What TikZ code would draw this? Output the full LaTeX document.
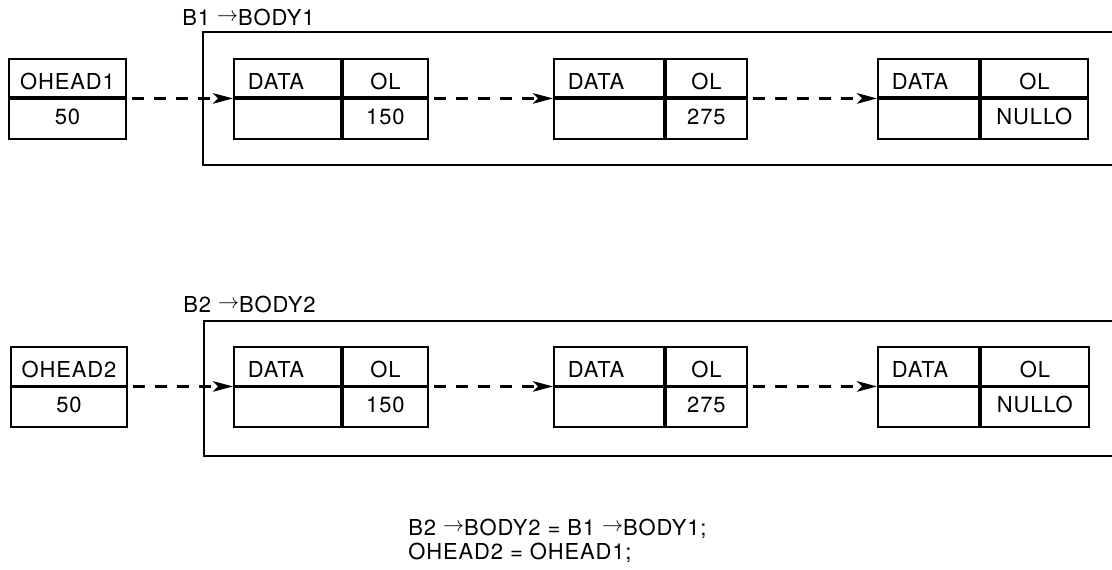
\documentclass[tikz,border=0pt]{standalone}
\usepackage{fontspec}
\setmainfont{TeX Gyre Heros}[LetterSpace=4]
\usepackage{tikz}
\usetikzlibrary{arrows.meta,positioning}
\newcommand{\boxfont}{\fontsize{12.5}{14}\selectfont}
\newcommand{\ptr}{\raisebox{0.3ex}{$\rightarrow$}}

\begin{document}
\begin{tikzpicture}[x=0.02cm, y=-0.02cm,
    cell/.style={draw, line width=1.1pt, inner sep=0pt, anchor=north west, font=\boxfont},
    topcell/.style={cell, minimum height=0.77cm, text height=0.44cm, text depth=0pt},
    botcell/.style={cell, minimum height=0.79cm, text height=0.2cm, text depth=0pt},
    datacell/.style={topcell, align=left, inner xsep=0.28cm, text width=#1},
    link/.style={line width=1.6pt, dash pattern=on 6.8pt off 5.8pt, shorten <=0.1cm,
        -{Stealth[length=4mm, width=2.1mm, inset=1mm]}},
    frame/.style={line width=1.1pt},
    tag/.style={anchor=base west, inner sep=0pt, font=\boxfont}]
    \useasboundingbox (0,0) rectangle (1112,569);

    % First list: B1 -> BODY1
    \node[tag] (lb1) at (182,25) {B1 \ptr BODY1};
    \draw[frame] (1112,32) -| (203,165) -- (1112,165);

    \node[topcell, minimum width=2.34cm] (oh1) at (8,58) {OHEAD1};
    \node[botcell, minimum width=2.34cm] (oh1v) at (oh1.south west) {50};

    \node[datacell=1.58cm] (d1) at (233,58) {DATA};
    \node[topcell, minimum width=1.7cm] (p1) at (d1.north east) {OL};
    \node[botcell, minimum width=2.14cm] (d1v) at (d1.south west) {};
    \node[botcell, minimum width=1.7cm] (p1v) at (p1.south west) {150};

    \node[datacell=1.64cm] (d2) at (553,58) {DATA};
    \node[topcell, minimum width=1.62cm] (p2) at (d2.north east) {OL};
    \node[botcell, minimum width=2.2cm] (d2v) at (d2.south west) {};
    \node[botcell, minimum width=1.62cm] (p2v) at (p2.south west) {275};

    \node[datacell=1.46cm] (d3) at (877,58) {DATA};
    \node[topcell, minimum width=2.14cm] (p3) at (d3.north east) {OL};
    \node[botcell, minimum width=2.02cm] (d3v) at (d3.south west) {};
    \node[botcell, minimum width=2.14cm] (p3v) at (p3.south west) {NULLO};

    \draw[link] (oh1.south east) -- (d1.south west);
    \draw[link] (p1.south east) -- (d2.south west);
    \draw[link] (p2.south east) -- (d3.south west);

    % Second list: B2 -> BODY2
    \node[tag] (lb2) at (183,312) {B2 \ptr BODY2};
    \draw[frame] (1112,321) -| (204,456) -- (1112,456);

    \node[topcell, minimum width=2.32cm] (oh2) at (10,346) {OHEAD2};
    \node[botcell, minimum width=2.32cm] (oh2v) at (oh2.south west) {50};

    \node[datacell=1.58cm] (e1) at (233,346) {DATA};
    \node[topcell, minimum width=1.7cm] (q1) at (e1.north east) {OL};
    \node[botcell, minimum width=2.14cm] (e1v) at (e1.south west) {};
    \node[botcell, minimum width=1.7cm] (q1v) at (q1.south west) {150};

    \node[datacell=1.64cm] (e2) at (553,346) {DATA};
    \node[topcell, minimum width=1.62cm] (q2) at (e2.north east) {OL};
    \node[botcell, minimum width=2.2cm] (e2v) at (e2.south west) {};
    \node[botcell, minimum width=1.62cm] (q2v) at (q2.south west) {275};

    \node[datacell=1.46cm] (e3) at (877,346) {DATA};
    \node[topcell, minimum width=2.16cm] (q3) at (e3.north east) {OL};
    \node[botcell, minimum width=2.02cm] (e3v) at (e3.south west) {};
    \node[botcell, minimum width=2.16cm] (q3v) at (q3.south west) {NULLO};

    \draw[link] (oh2.south east) -- (e1.south west);
    \draw[link] (q1.south east) -- (e2.south west);
    \draw[link] (q2.south east) -- (e3.south west);

    % Assignment
    \node[tag] (code1) at (408,535) {B2 \ptr BODY2 = B1 \ptr BODY1;};
    \node[tag] (code2) at (408,559) {OHEAD2 = OHEAD1;};
\end{tikzpicture}
\end{document}
